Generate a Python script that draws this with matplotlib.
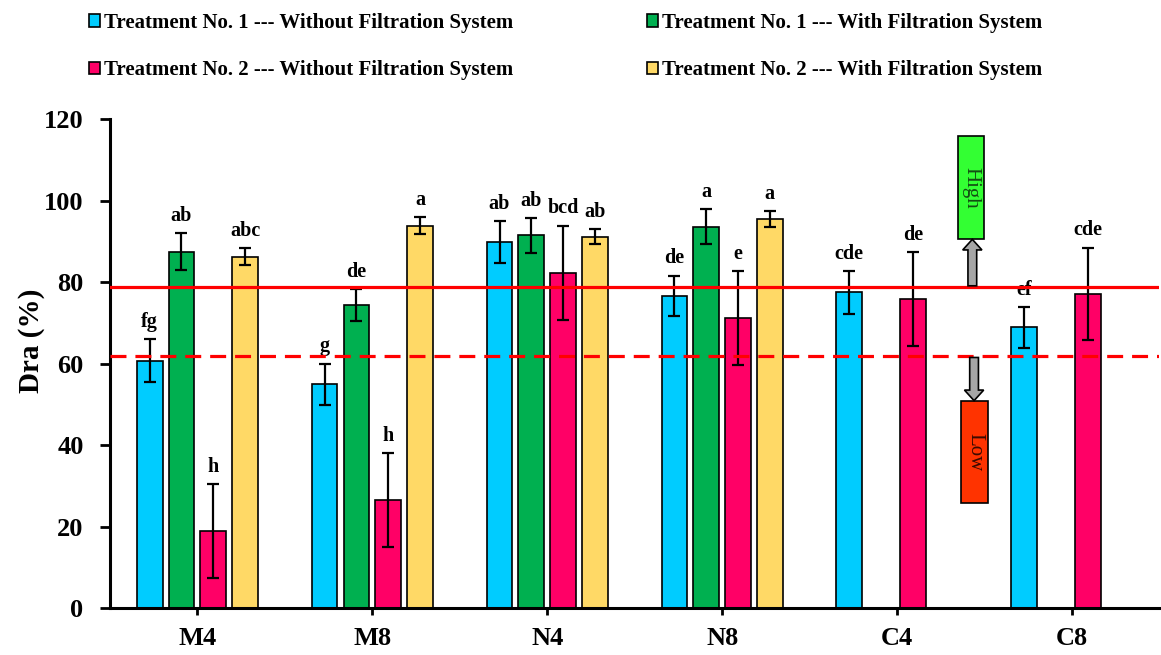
import numpy as np
import matplotlib
matplotlib.use("Agg")
import matplotlib.pyplot as plt
from matplotlib.patches import Patch, Rectangle, FancyArrow

plt.rcParams['font.family'] = ['Liberation Serif', 'DejaVu Serif']
plt.rcParams['font.weight'] = 'bold'

# data
groups = ["M4", "M8", "N4", "N8", "C4", "C8"]
series = ["Treatment No. 1 --- Without Filtration System",
          "Treatment No. 1 --- With Filtration System",
          "Treatment No. 2 --- Without Filtration System",
          "Treatment No. 2 --- With Filtration System"]
t1_without = [60.7, 54.9, 89.8, 76.6, 77.5, 68.9]
t1_with = [87.5, 74.3, 91.5, 93.6, np.nan, np.nan]
t2_without = [18.9, 26.5, 82.3, 71.2, 75.9, 77.1]
t2_with = [86.2, 93.9, 91.2, 95.5, np.nan, np.nan]
t1_without_sd = [5.3, 5.1, 5.1, 5.0, 5.3, 5.0]
t1_with_sd = [4.5, 3.9, 4.3, 4.3, np.nan, np.nan]
t2_without_sd = [11.5, 11.5, 11.6, 11.6, 11.5, 11.4]
t2_with_sd = [2.1, 2.1, 1.9, 1.9, np.nan, np.nan]
t1_without_lab = ["fg", "g", "ab", "de", "cde", "ef"]
t1_with_lab = ["ab", "de", "ab", "a", "", ""]
t2_without_lab = ["h", "h", "bcd", "e", "de", "cde"]
t2_with_lab = ["abc", "a", "ab", "a", "", ""]
high_limit = 78.8
low_limit = 61.8

values = [t1_without, t1_with, t2_without, t2_with]
sds = [t1_without_sd, t1_with_sd, t2_without_sd, t2_with_sd]
labels = [t1_without_lab, t1_with_lab, t2_without_lab, t2_with_lab]
colors = ["#00CCFF", "#00B050", "#FF0066", "#FFD966"]

fig = plt.figure(figsize=(11.61, 6.55), dpi=100)
ax = fig.add_axes([0.0947, 0.0718, 0.904, 0.7462])

x = np.arange(len(groups))
pitch = 0.182
width = 0.147
for i in range(4):
    xs = x + (i - 1.5) * pitch
    v = np.array(values[i], dtype=float)
    e = np.array(sds[i], dtype=float)
    ax.bar(xs, v, width, color=colors[i], edgecolor='black', linewidth=1.2, zorder=2)
    ax.errorbar(xs, v, yerr=e, fmt='none', ecolor='black', elinewidth=1.6,
                capsize=4.5, capthick=1.6, zorder=3)
    for xi, vi, ei, lab in zip(xs, v, e, labels[i]):
        if lab:
            ax.text(xi, vi + ei + 3, lab, ha='center', va='baseline', fontsize=14.5, fontweight='bold')

ax.axhline(high_limit, color='#FF0000', lw=2.3, zorder=4)
ax.axhline(low_limit, color='#FF0000', lw=2.3, ls=(0, (5, 2.8)), zorder=4)

# high / low boxes with arrows
ax.add_patch(Rectangle((4.347, 90.6), 0.151, 25.2, facecolor='#33FF33', edgecolor='black', lw=1.2, zorder=5))
ax.text(4.4225, 103.2, "High", rotation=270, ha='center', va='center', fontsize=15,
        fontweight='normal', color='#134D13', zorder=6)
ax.add_patch(Rectangle((4.365, 25.8), 0.155, 25.0, facecolor='#FF3300', edgecolor='black', lw=1.2, zorder=5))
ax.text(4.4425, 38.3, "Low", rotation=270, ha='center', va='center', fontsize=15,
        fontweight='normal', color='#3A0A00', zorder=6)
ax.add_patch(FancyArrow(4.43, high_limit + 0.3, 0, 11.4, width=0.05, head_width=0.11,
                        head_length=2.6, length_includes_head=True,
                        facecolor='#A6A6A6', edgecolor='black', lw=1.2, zorder=5))
ax.add_patch(FancyArrow(4.44, low_limit - 0.3, 0, -10.6, width=0.05, head_width=0.11,
                        head_length=2.6, length_includes_head=True,
                        facecolor='#A6A6A6', edgecolor='black', lw=1.2, zorder=5))

ax.set_xlim(-0.5, 5.5)
ax.set_ylim(0, 120)
ax.set_yticks(np.arange(0, 121, 20))
ax.set_xticks(x)
ax.set_xticklabels(groups)
ax.tick_params(axis='y', labelsize=19, width=2, length=7, direction='out', pad=12)
ax.tick_params(axis='x', labelsize=19, width=2, length=5, direction='out', pad=9)
for lab in ax.get_xticklabels() + ax.get_yticklabels():
    lab.set_fontweight('bold')
ax.set_ylabel("Dra (%)", fontsize=21, fontweight='bold')
ax.yaxis.set_label_coords(-0.062, 0.546)
for s in ['top', 'right']:
    ax.spines[s].set_visible(False)
for s in ['left', 'bottom']:
    ax.spines[s].set_linewidth(2.2)

order = [0, 2, 1, 3]
handles = [Patch(facecolor=colors[i], edgecolor='black', linewidth=1.2) for i in order]
fig.legend(handles, [series[i] for i in order], loc='upper left', bbox_to_anchor=(0.062, 1.006),
           ncol=2, frameon=False, handlelength=0.55, handleheight=0.55,
           handletextpad=0.2, columnspacing=6.4, labelspacing=1.33, borderaxespad=0.4,
           prop={'weight': 'bold', 'size': 15})

fig.savefig("out.png", dpi=100)
